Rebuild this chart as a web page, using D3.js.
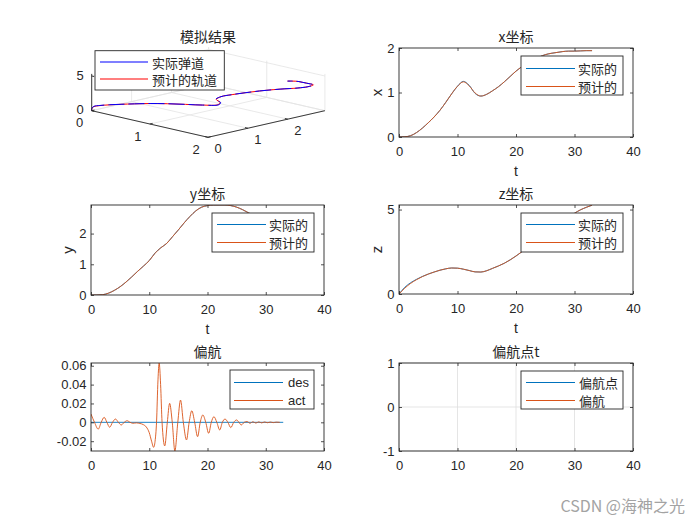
<!DOCTYPE html>
<html><head><meta charset="utf-8">
<script src="https://cdn.jsdelivr.net/npm/d3@7"></script>
<style>body{margin:0;background:#fff}svg{display:block}</style>
</head><body><svg id="c" width="700" height="525"></svg>
<script>
// ---------------- data ----------------
const tVals = [0,1,2,3,4,5,6,7,8,9,10,11,12,13,14,15,16,17,18,19,20,21,22,23,24,25,26,27,28,29,30,31,32,33];
const xPred = [0,0.005,0.03,0.1,0.2,0.32,0.45,0.6,0.78,0.97,1.14,1.24,1.15,0.99,0.92,0.96,1.04,1.13,1.24,1.36,1.48,1.58,1.67,1.74,1.8,1.85,1.88,1.9,1.92,1.93,1.93,1.935,1.94,1.94];
const xAct  = [0,0.005,0.03,0.1,0.2,0.32,0.45,0.6,0.78,0.97,1.14,1.25,1.16,0.98,0.92,0.96,1.04,1.13,1.24,1.36,1.48,1.58,1.67,1.74,1.8,1.85,1.88,1.9,1.92,1.93,1.93,1.935,1.94,1.94];
const yPred = [0,0,0.01,0.06,0.15,0.27,0.42,0.59,0.77,0.94,1.12,1.36,1.54,1.68,1.9,2.12,2.35,2.56,2.74,2.86,2.91,2.93,2.93,2.93,2.91,2.86,2.78,2.68,2.58,2.48,2.38,2.28,2.18,2.08];
const yAct  = [0,0,0.01,0.06,0.15,0.27,0.42,0.59,0.77,0.94,1.12,1.37,1.54,1.68,1.9,2.12,2.35,2.56,2.74,2.86,2.91,2.93,2.93,2.93,2.91,2.86,2.78,2.68,2.58,2.48,2.38,2.28,2.18,2.08];
const zPred = [0,0.35,0.63,0.85,1.03,1.18,1.3,1.41,1.49,1.54,1.53,1.47,1.39,1.31,1.3,1.38,1.52,1.66,1.82,2.02,2.25,2.5,2.76,3.02,3.28,3.53,3.78,4.03,4.28,4.53,4.78,4.98,5.13,5.26];
const zAct  = [0,0.4,0.67,0.87,1.04,1.18,1.3,1.41,1.49,1.54,1.53,1.47,1.39,1.31,1.3,1.38,1.52,1.66,1.82,2.02,2.25,2.5,2.76,3.02,3.28,3.53,3.78,4.03,4.28,4.53,4.78,4.98,5.13,5.26];

const yawT   = [0,0.6,1.24,1.75,2.26,2.73,3.2,3.7,4.2,4.7,5.2,5.7,6.2,6.7,7.2,7.8,8.4,9.0,9.5,10.0,10.4,10.75,11.0,11.25,11.5,11.7,11.95,12.2,12.66,13.1,13.5,13.95,14.4,14.9,15.37,15.85,16.4,16.85,17.3,17.8,18.3,18.75,19.2,19.7,20.2,20.65,21.1,21.6,22.1,22.55,23.0,23.5,24.0,24.5,25.0,25.4,25.8,26.3,26.8,27.3,27.8,28.3,28.8,29.3,29.8,30.3,30.8,31.3,31.8,32.4];
const yawAct = [0.0088,0,-0.0072,0,0.0053,0,-0.0052,0,0.0035,0,-0.0028,0,0.0017,0,-0.001,-0.0006,-0.0012,-0.0025,-0.005,-0.011,-0.02,-0.0265,-0.02,0,0.045,0.0629,0.04,0,-0.025,0,0.0201,0,-0.0304,0,0.0236,0,-0.0187,0,0.0123,0,-0.0152,0,0.0078,0,-0.0116,0,0.006,0,-0.0081,0,0.0035,0,-0.0056,0,0.0025,0,-0.0028,0,0.0008,-0.001,0.0006,-0.0008,0.0005,-0.0006,0.0004,-0.0004,0.0003,-0.0003,0.0002,0];
const yawDesT = [0,33];
const yawDes  = [0,0];

const xTicks = [0,10,20,30,40];
const tickX = [0,1,2], tickY = [0,1,2], tickZ = [0,5];

const C_BLUE = '#0072BD', C_ORANGE = '#D95319';
const AX = '#262626';
const LATIN = "'Liberation Sans', Arial, 'Noto Sans CJK SC', sans-serif";
const CJK = "'Noto Sans CJK SC', 'Liberation Sans', sans-serif";

const svg = d3.select('#c');
let clipN = 0;

function legend(g, bx, by, bw, bh, items, lx0, lx1, tx, rows, font){
  const lg = g.append('g');
  lg.append('rect').attr('x',bx).attr('y',by).attr('width',bw).attr('height',bh)
    .attr('fill','#fff').attr('stroke',AX).attr('stroke-width',0.9);
  items.forEach((it,i)=>{
    lg.append('line').attr('x1',bx+lx0).attr('x2',bx+lx1).attr('y1',by+rows[i]).attr('y2',by+rows[i])
      .style('stroke',it.color).attr('stroke-width',1.2);
    lg.append('text').attr('x',bx+tx).attr('y',by+rows[i]).attr('dominant-baseline','central')
      .attr('font-family',font).attr('font-size',13).attr('fill',AX).text(it.label);
  });
}

function panel(o){
  const g = svg.append('g').attr('transform',`translate(${o.x},${o.y})`);
  const xs = d3.scaleLinear().domain([0,40]).range([0,o.w]);
  const ys = d3.scaleLinear().domain(o.yDomain).range([o.h,0]);
  const id = 'clip'+(clipN++);
  g.append('clipPath').attr('id',id).append('rect').attr('width',o.w).attr('height',o.h);
  if(o.grid){
    g.selectAll(null).data(xTicks).enter().append('line')
      .attr('x1',d=>xs(d)).attr('x2',d=>xs(d)).attr('y1',0).attr('y2',o.h)
      .attr('stroke','#dedede').attr('stroke-width',0.8);
    g.selectAll(null).data(o.yTicks).enter().append('line')
      .attr('y1',d=>ys(d)).attr('y2',d=>ys(d)).attr('x1',0).attr('x2',o.w)
      .attr('stroke','#dedede').attr('stroke-width',0.8);
  }
  const plot = g.append('g').attr('clip-path',`url(#${id})`);
  (o.series||[]).forEach(s=>{
    plot.append('path').datum(s.t.map((t,i)=>[t,s.v[i]]))
      .attr('d', d3.line().x(d=>xs(d[0])).y(d=>ys(d[1])).curve(s.curve||d3.curveMonotoneX))
      .attr('fill','none').attr('stroke',s.color).attr('stroke-width',0.9);
  });
  const ax = (axis, tr, labels)=>{
    const a = g.append('g').attr('transform',tr).call(axis);
    a.select('.domain').remove();
    a.selectAll('line').attr('stroke',AX).attr('stroke-width',0.8);
    a.attr('font-size',13).attr('font-family',LATIN);
    a.selectAll('text').attr('fill',AX);
    if(!labels) a.selectAll('text').remove();
  };
  const fmt = o.fmt || (d=>String(d));
  ax(d3.axisBottom(xs).tickValues(xTicks).tickSize(-3).tickPadding(9.5), `translate(0,${o.h})`, true);
  ax(d3.axisTop(xs).tickValues(xTicks).tickSize(-3).tickFormat(()=>''), 'translate(0,0)', false);
  ax(d3.axisLeft(ys).tickValues(o.yTicks).tickSize(-3).tickPadding(4.5).tickFormat(fmt), 'translate(0,0)', true);
  ax(d3.axisRight(ys).tickValues(o.yTicks).tickSize(-3).tickFormat(()=>''), `translate(${o.w},0)`, false);
  g.append('rect').attr('width',o.w).attr('height',o.h).attr('fill','none').attr('stroke',AX).attr('stroke-width',0.9);
  g.append('text').attr('x',o.w/2).attr('y',-6).attr('text-anchor','middle')
    .attr('font-family',CJK).attr('font-size',14).attr('fill',AX).text(o.title);
  if(o.xlabel){
    g.append('text').attr('x',o.w/2).attr('y',o.h+39).attr('text-anchor','middle')
      .attr('font-family',LATIN).attr('font-size',14).attr('fill',AX).text(o.xlabel);
  }
  if(o.ylabel){
    g.append('text').attr('transform',`translate(${o.ylx},${o.h/2}) rotate(-90)`)
      .attr('text-anchor','middle').attr('dominant-baseline','central')
      .attr('font-family',LATIN).attr('font-size',15).attr('fill',AX).text(o.ylabel);
  }
  if(o.legend){
    const L=o.legend;
    legend(g, L.x, L.y, L.w, L.h, L.items, L.l0, L.l1, L.tx, L.rows, L.font);
  }
}

const LW = 233, RW = 234;
const legXYZ = (items, x, y, rows) => ({x, y, w:102,h:39,items,l0:5,l1:54,tx:57,rows:rows||[11.5,29.5],font:CJK});
const xyzItems = () => [{label:'实际的',color:C_BLUE},{label:'预计的',color:C_ORANGE}];

panel({x:399,y:205,w:LW+1,h:89,yDomain:[0,5.27],yTicks:[0,5],title:'z坐标',xlabel:'t',ylabel:'z',ylx:-23,
  series:[{t:tVals,v:zAct,color:C_BLUE},{t:tVals,v:zPred,color:C_ORANGE}],
  legend:legXYZ(xyzItems(),122,8)});
panel({x:399,y:48,w:RW,h:89,yDomain:[0,2],yTicks:[0,1,2],title:'x坐标',xlabel:'t',ylabel:'x',ylx:-23,
  series:[{t:tVals,v:xAct,color:C_BLUE},{t:tVals,v:xPred,color:C_ORANGE}],
  legend:legXYZ(xyzItems(),122,8,[12.5,30.5])});
panel({x:91,y:205,w:LW,h:90,yDomain:[0,2.93],yTicks:[0,1,2],title:'y坐标',xlabel:'t',ylabel:'y',ylx:-24,
  series:[{t:tVals,v:yAct,color:C_BLUE},{t:tVals,v:yPred,color:C_ORANGE}],
  legend:legXYZ(xyzItems(),121,8)});
panel({x:91,y:363,w:LW,h:88,yDomain:[-0.0304,0.0629],yTicks:[-0.02,0,0.02,0.04,0.06],title:'偏航',
  fmt:d=>d===0?'0':String(+d.toFixed(2)),
  series:[{t:yawDesT,v:yawDes,color:C_BLUE,curve:d3.curveLinear},{t:yawT,v:yawAct,color:C_ORANGE}],
  legend:{x:139,y:7,w:84,h:39,items:[{label:'des',color:C_BLUE},{label:'act',color:C_ORANGE}],l0:4,l1:53,tx:58,rows:[12.5,30.5],font:LATIN}});
panel({x:399,y:363,w:RW,h:88,yDomain:[-1,1],yTicks:[-1,0,1],title:'偏航点t',grid:true,series:[],
  legend:{x:122,y:8,w:102,h:38,items:[{label:'偏航点',color:C_BLUE},{label:'偏航',color:C_ORANGE}],l0:5,l1:54,tx:58,rows:[11.5,29.5],font:CJK}});

// ---------------- 3D panel ----------------
(function(){
  const g = svg.append('g');
  const sx = d3.scaleLinear().domain([0,2]).range([0,1]);
  const sy = d3.scaleLinear().domain([0,2.93]).range([0,1]);
  const sz = d3.scaleLinear().domain([0,5.3]).range([0,1]);
  const O=[91.7,110.7], VX=[116.3,26.6], VY=[116.9,-26.6], VZ=[0,-36.8];
  const P=(x,y,z)=>[O[0]+sx(x)*VX[0]+sy(y)*VY[0]+sz(z)*VZ[0], O[1]+sx(x)*VX[1]+sy(y)*VY[1]+sz(z)*VZ[1]];
  const ymax=2.93, xmax=2, zmax=5.3;
  const seg=(a,b,col,w)=>g.append('line').attr('x1',a[0]).attr('y1',a[1]).attr('x2',b[0]).attr('y2',b[1]).attr('stroke',col).attr('stroke-width',w);
  const GC='#e3e3e3';
  tickX.forEach(x=>seg(P(x,0,0),P(x,ymax,0),GC,0.8));
  tickY.forEach(y=>seg(P(0,y,0),P(xmax,y,0),GC,0.8));
  tickY.forEach(y=>seg(P(0,y,0),P(0,y,zmax),GC,0.8));
  seg(P(0,ymax,0),P(0,ymax,zmax),GC,0.8);
  tickZ.forEach(z=>seg(P(0,0,z),P(0,ymax,z),GC,0.8));
  tickX.forEach(x=>seg(P(x,ymax,0),P(x,ymax,zmax),GC,0.8));
  tickZ.forEach(z=>seg(P(0,ymax,z),P(xmax,ymax,z),GC,0.8));
  seg(P(0,ymax,0),P(xmax,ymax,0),GC,0.8);
  const line3 = d3.line().x(d=>P(d[0],d[1],d[2])[0]).y(d=>P(d[0],d[1],d[2])[1]).curve(d3.curveCatmullRom);
  g.append('path').datum(tVals.map((t,i)=>[xPred[i],yPred[i],zPred[i]])).attr('d',line3)
    .attr('fill','none').attr('stroke','#ff0000').attr('stroke-width',1);
  g.append('path').datum(tVals.map((t,i)=>[xAct[i],yAct[i],zAct[i]])).attr('d',line3)
    .attr('fill','none').attr('stroke','#0000ff').attr('stroke-width',1).attr('stroke-dasharray','16,4');
  seg(P(0,0,0),P(xmax,0,0),AX,0.9);
  seg(P(xmax,0,0),P(xmax,ymax,0),AX,0.9);
  seg(P(0,0,0),P(0,0,zmax),AX,0.9);
  const lab=(p,dx,dy,txt)=>g.append('text').attr('x',p[0]+dx).attr('y',p[1]+dy).attr('text-anchor','middle')
    .attr('dominant-baseline','central').attr('font-family',LATIN).attr('font-size',13).attr('fill',AX).text(txt);
  tickX.forEach(x=>{const p=P(x,0,0); seg(p,P(x,0.07,0),AX,0.9); lab(p,-12,12,String(x));});
  tickY.forEach(y=>{const p=P(xmax,y,0); seg(p,P(xmax-0.05,y,0),AX,0.9); lab(p,10,11,String(y));});
  tickZ.forEach(z=>{const p=P(0,0,z); seg(p,[p[0]+2.5,p[1]+0.6],AX,0.9); lab(p,-11.5,z===0?-1:0,String(z));});
  legend(g,95,50.7,129.3,39.3,[{label:'实际弹道',color:'#0000ff'},{label:'预计的轨道',color:'#ff0000'}],5,53,57,[11.3,28.3],CJK);
  g.append('text').attr('x',208).attr('y',41.5).attr('text-anchor','middle')
    .attr('font-family',CJK).attr('font-size',14).attr('fill',AX).text('模拟结果');
})();

svg.append('text').attr('x',685).attr('y',512).attr('text-anchor','end')
  .attr('font-family',CJK).attr('font-size',16).attr('fill','#a3a3a3').text('CSDN @海神之光');
</script>
</body></html>
